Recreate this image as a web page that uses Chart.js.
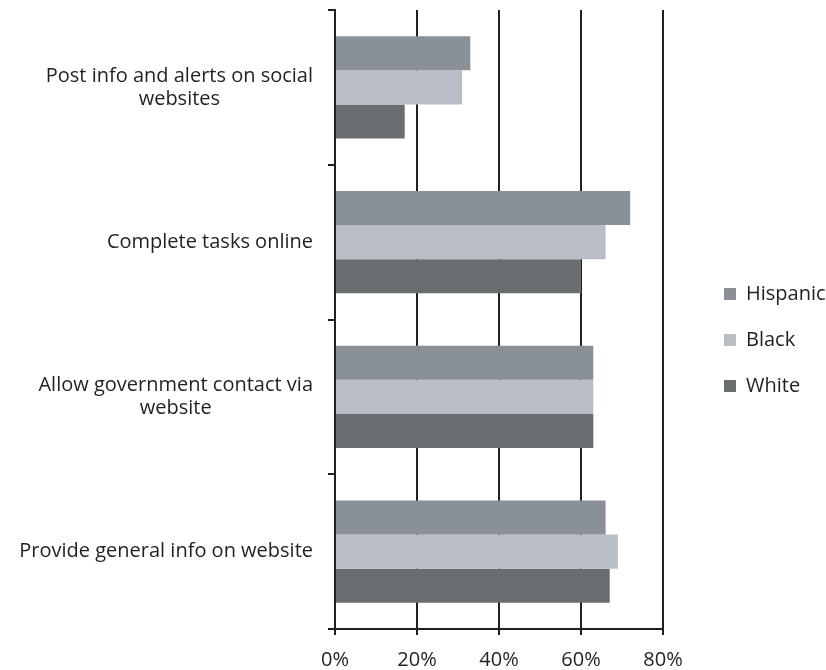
<!DOCTYPE html>
<html>
<head>
<meta charset="utf-8">
<script src="https://cdn.jsdelivr.net/npm/chart.js@4.4.1/dist/chart.umd.min.js"></script>
<style>
  html, body { margin: 0; padding: 0; background: #fff; }
  #wrap { width: 826px; height: 670px; }
</style>
</head>
<body>
<div id="wrap"><canvas id="bar"></canvas></div>
<script>
// categories, top to bottom
const labels = [
  ['Post info and alerts on social', 'websites'],
  ['Complete tasks online'],
  ['Allow government contact via', 'website'],
  ['Provide general info on website']
];

// percentages
const hispanic = [33, 72, 63, 66];
const black = [31, 66, 63, 69];
const white = [17, 60, 63, 67];

const xMax = 80;
const xStep = 10;

const ink = '#231f20';
const fontFamily = 'Open Sans';
const fontSize = 20;

// category labels: right-aligned block, lines centred inside it
const catLabels = {
  id: 'catLabels',
  afterDraw(chart) {
    const ctx = chart.ctx;
    const y = chart.scales.y;
    const right = y.right - 22;
    const lh = 23;
    ctx.save();
    ctx.font = fontSize + 'px "' + fontFamily + '"';
    ctx.fillStyle = ink;
    ctx.textAlign = 'center';
    ctx.textBaseline = 'middle';
    chart.data.labels.forEach(function(lines, i) {
      const w = Math.max.apply(null, lines.map(function(l) { return ctx.measureText(l).width; }));
      const cx = right - w / 2;
      const cy = y.getPixelForTick(i) - (lines.length - 1) * lh / 2;
      lines.forEach(function(l, j) {
        ctx.fillText(l, cx, cy + j * lh);
      });
    });
    ctx.restore();
  }
};

const data = {
  labels: labels,
  datasets: [
    { label: 'Hispanic', data: hispanic, backgroundColor: '#8a9098' },
    { label: 'Black', data: black, backgroundColor: '#b9bec6' },
    { label: 'White', data: white, backgroundColor: '#686e70' }
  ]
};

const config = {
  type: 'bar',
  data: data,
  plugins: [catLabels],
  options: {
    indexAxis: 'y',
    responsive: true,
    maintainAspectRatio: false,
    animation: false,
    datasets: {
      bar: { barPercentage: 1, categoryPercentage: 0.66 }
    },
    layout: { padding: { top: 10 } },
    plugins: {
      tooltip: { enabled: false },
      legend: {
        position: 'right',
        maxWidth: 128,
        labels: {
          color: ink,
          font: { family: fontFamily, size: fontSize },
          boxWidth: 12,
          boxHeight: 12,
          padding: 26
        }
      }
    },
    scales: {
      x: {
        min: 0,
        max: xMax,
        afterFit: function(s) { s.height = 41; },
        ticks: {
          stepSize: xStep,
          color: ink,
          font: { family: fontFamily, size: fontSize },
          padding: 13,
          maxRotation: 0,
          callback: function(v) { return v % 20 === 0 ? v + '%' : ''; }
        },
        grid: {
          color: function(c) { return (c.tick && c.tick.value % 20 === 0 && c.tick.value > 0) ? ink : 'rgba(0,0,0,0)'; },
          tickColor: ink,
          lineWidth: 2,
          tickLength: 6
        },
        border: { color: ink, width: 2 }
      },
      y: {
        afterFit: function(s) { s.width = 335; },
        ticks: { display: false },
        grid: {
          drawOnChartArea: false,
          color: ink,
          lineWidth: 2,
          tickLength: 7
        },
        border: { color: ink, width: 2 }
      },
      // empty spacer between plot and legend
      gap: {
        type: 'linear',
        position: 'right',
        afterFit: function(s) { s.width = 35; },
        ticks: { display: false },
        grid: { display: false },
        border: { display: false }
      }
    }
  }
};

const chart = new Chart('bar', config);
</script>
</body>
</html>
